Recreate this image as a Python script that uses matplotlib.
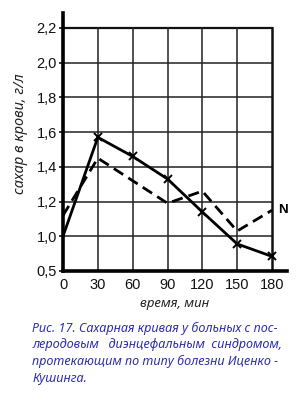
import numpy as np
import matplotlib
matplotlib.use('Agg')
import matplotlib.pyplot as plt

# time points, minutes
minutes = [0, 30, 60, 90, 120, 150, 180]
# solid curve with x markers
sugar_solid = [1.00, 1.57, 1.46, 1.33, 1.14, 0.89, 0.71]
# dashed curve (no point at 60 min)
minutes_dashed = [0, 30, 90, 120, 150, 180]
sugar_dashed = [1.12, 1.45, 1.19, 1.26, 1.03, 1.15]

y_ticks = [0.5, 1.0, 1.2, 1.4, 1.6, 1.8, 2.0, 2.2]
y_tick_labels = ['0,5', '1,0', '1,2', '1,4', '1,6', '1,8', '2,0', '2,2']
x_ticks = [0, 30, 60, 90, 120, 150, 180]

caption_lines = [
    'Рис. 17. Сахарная кривая у больных с пос-',
    'леродовым   диэнцефальным  синдромом,',
    'протекающим по типу болезни Иценко -',
    'Кушинга.',
]


# broken axis: 0.5..1.0 takes one grid step, above 1.0 each 0.2 is one step
def fwd(y):
    y = np.asarray(y, dtype=float)
    return np.where(y >= 1.0, 1.0 + (y - 1.0) / 0.2, (y - 0.5) / 0.5)


def inv(p):
    p = np.asarray(p, dtype=float)
    return np.where(p >= 1.0, 1.0 + (p - 1.0) * 0.2, 0.5 + p * 0.5)


fig = plt.figure(figsize=(3, 4), dpi=100)
ax = fig.add_axes([0.21, 0.3225, 0.747, 0.645])
ax.set_yscale('function', functions=(fwd, inv))
ax.set_xlim(0, 193)
ax.set_ylim(0.5, 2.286)

for v in [1.0, 1.2, 1.4, 1.6, 1.8, 2.0]:
    ax.axhline(v, xmin=0, xmax=180 / 193, color='#222222', lw=1.1, zorder=1)
ax.plot([0, 180], [2.2, 2.2], color='#111111', lw=1.6, zorder=1)
for m in x_ticks[1:-1]:
    ax.plot([m, m], [0.5, 2.2], color='#222222', lw=1.1, zorder=1)
ax.plot([180, 180], [0.5, 2.2], color='#111111', lw=1.8, zorder=1)

ax.plot(minutes, sugar_solid, color='black', lw=2.0, marker='x', ms=6, mew=1.4,
        markevery=list(range(1, 7)), zorder=3)
ax.plot(minutes_dashed, sugar_dashed, color='black', lw=2.0, ls=(0, (4, 2.2)), zorder=3)
ax.text(185, sugar_dashed[-1], 'N', fontsize=9.5, fontweight='bold',
        va='center', ha='left', family='Liberation Sans')

for s in ['top', 'right']:
    ax.spines[s].set_visible(False)
ax.spines['left'].set_linewidth(2.6)
ax.spines['bottom'].set_linewidth(2.6)

ax.set_yticks(y_ticks)
ax.set_yticklabels(y_tick_labels)
ax.set_xticks(x_ticks)
ax.set_xticklabels([str(m) for m in x_ticks])
ax.yaxis.set_minor_locator(matplotlib.ticker.NullLocator())
ax.tick_params(axis='y', length=3, width=1.1, pad=1.5, labelsize=10.5)
ax.tick_params(axis='x', length=0, pad=5, labelsize=10.5)
for lab in ax.get_xticklabels() + ax.get_yticklabels():
    lab.set_family('Liberation Sans')
    lab.set_color('#111111')

fig.text(0.067, 0.667, 'сахар в крови, г/л', rotation=90, style='italic',
         fontsize=10.5, family='Noto Sans', ha='center', va='center', color='#222222')
fig.text(0.583, 0.2425, 'время, мин', style='italic', fontsize=9.5,
         family='Noto Sans', ha='center', va='center', color='#222222')

for i, line in enumerate(caption_lines):
    fig.text(0.107, 0.18 - i * 0.042, line, style='italic', fontsize=9.1,
             family='Noto Sans', color='#2e2eb0', ha='left', va='center')

fig.savefig('out.png', dpi=100)
